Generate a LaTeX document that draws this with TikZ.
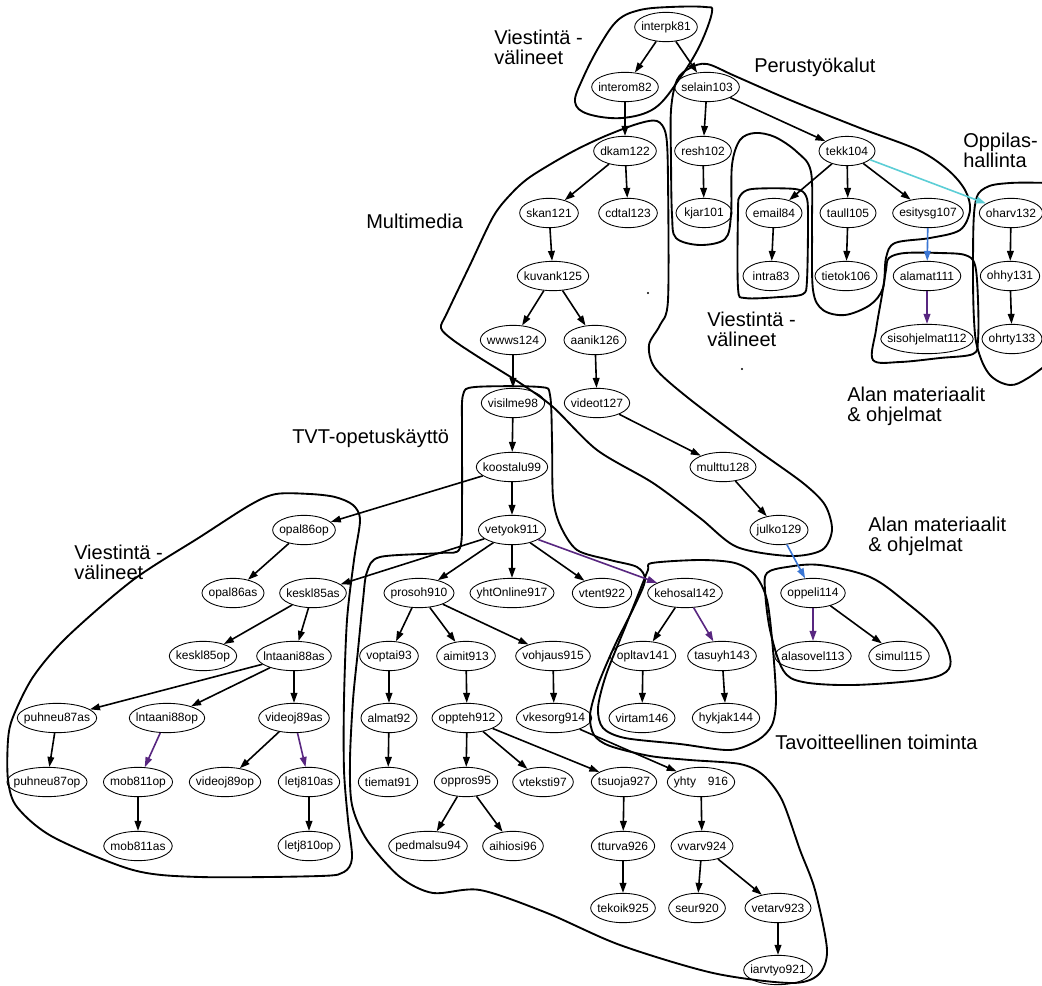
\documentclass[tikz,border=0pt]{standalone}
\usepackage{fontspec}
\setmainfont{Liberation Sans}
\usetikzlibrary{shapes.geometric,arrows.meta}

\definecolor{gvpurple}{RGB}{88,38,128}
\definecolor{gvblue}{RGB}{58,118,212}
\definecolor{gvcyan}{RGB}{92,206,214}

\newcommand\ndfont{\fontsize{9}{10}\selectfont}
% the ellipse is sqrt(2) times its text box: shrink the box so that
% the ellipse ends up 10pt wider than the label
\newcommand\ebox[1]{\makebox[\dimexpr 0.7071\width+7.07pt\relax][c]{#1}}
\newcommand\nd[3]{\node[gv] (#1) at (#2) {\ebox{#3}};}

\tikzset{
  gv/.style={ellipse, draw, line width=0.65pt, inner xsep=0pt, inner ysep=0pt,
             minimum width=42pt, minimum height=22pt, font=\ndfont},
  ed/.style={-{Triangle[length=7.5pt,width=5pt]}, line width=1.2pt},
  edp/.style={ed, draw=gvpurple},
  edb/.style={ed, draw=gvblue},
  edc/.style={ed, draw=gvcyan},
  loop/.style={line width=1.4pt, line join=round, line cap=round},
  lab/.style={anchor=north west, inner sep=0pt, align=left,
              font=\fontsize{15}{15}\selectfont},
}

\begin{document}
\begin{tikzpicture}[x=0.75pt, y=-0.75pt]
\useasboundingbox (0,0) rectangle (1042,985);
\fill[white] (0,0) rectangle (1042,985);
\clip (0,0) rectangle (1042,985);

% ---------- group outlines ----------
% interpk81 / interom82
\draw[loop] plot[smooth cycle, tension=0.6] coordinates {
  (712,12) (700,45) (680,78) (655,108) (622,118) (588,114) (575,102)
  (583,78) (600,45) (618,20) (640,10) (670,7) (705,7)};
% Perustyokalut
\draw[loop] plot[smooth cycle, tension=0.55] coordinates {
  (707,64) (690,68) (677,80) (671,110) (671,160) (672,215) (676,238)
  (700,245) (725,239) (731,215) (732,165) (740,140) (755,133) (775,137)
  (797,152) (811,172) (812,230) (813,290) (823,310) (845,315) (870,305)
  (883,288) (886,258) (895,243) (930,238) (960,230) (970,210) (965,190)
  (948,170) (918,150) (860,128) (790,100) (735,76)};
% email84 / intra83
\draw[loop] plot[smooth cycle, tension=0.5] coordinates {
  (740,196) (752,189) (795,189) (806,196) (808,215) (807,280) (803,294)
  (780,297) (745,298) (738,288) (738,210)};
% alamat111 / sisohjelmat112
\draw[loop] plot[smooth cycle, tension=0.55] coordinates {
  (889,258) (905,253) (940,253) (965,255) (975,265) (978,300) (978,340)
  (973,354) (940,358) (900,362) (873,360) (876,330) (882,295) (886,270)};
% oharv132 ... ohrty133
\draw[loop] plot[smooth, tension=0.6] coordinates {
  (1050,183) (1010,183) (985,188) (975,205) (973,260) (974,320) (978,350)
  (990,375) (1010,385) (1028,378) (1050,362)};
% Multimedia
\draw[loop] plot[smooth cycle, tension=0.5] coordinates {
  (657,121) (666,135) (668,180) (668,300) (660,325) (649,345) (655,368)
  (687,397) (753,447) (803,483) (825,505) (832,530) (822,550) (790,556)
  (737,547) (700,518) (653,483) (597,450) (553,407) (520,383) (480,358)
  (453,340) (441,328) (447,313) (470,265) (493,217) (510,195) (530,177)
  (570,153) (603,137) (637,124)};
% TVT-opetuskaytto
\draw[loop] plot[smooth cycle, tension=0.5] coordinates {
  (463,395) (475,387) (540,387) (550,395) (552,440) (553,497) (560,525)
  (577,550) (610,560) (637,567) (645,580) (635,605) (615,645) (598,685)
  (590,715) (594,735) (610,746) (650,756) (690,760) (740,764) (763,775)
  (782,800) (800,850) (815,890) (827,950) (818,975) (790,983) (713,973)
  (620,945) (547,913) (480,890) (433,893) (400,877) (367,840) (352,805)
  (350,760) (353,700) (358,650) (363,600) (367,572) (380,557) (440,553)
  (460,548) (462,500) (462,430)};
% kehosal142 ...
\draw[loop] plot[smooth cycle, tension=0.5] coordinates {
  (652,563) (700,560) (735,563) (755,575) (767,600) (773,650) (776,700)
  (772,725) (758,740) (730,750) (680,744) (625,738) (603,728) (598,708)
  (606,675) (626,625) (640,590) (648,570)};
% oppeli114 ...
\draw[loop] plot[smooth cycle, tension=0.55] coordinates {
  (767,573) (787,567) (820,565) (870,577) (907,603) (937,630) (950,657)
  (946,672) (920,680) (853,685) (803,682) (783,670) (770,630) (765,590)};
% left Viestintavalineet
\draw[loop] plot[smooth cycle, tension=0.5] coordinates {
  (276,494) (310,494) (335,497) (353,505) (360,520) (354,560) (347,620)
  (344,700) (344,770) (348,820) (352,858) (344,872) (320,876) (200,877)
  (133,870) (53,837) (17,807) (8,780) (8,740) (13,717) (33,677) (67,637)
  (133,580) (200,537) (250,505)};

\fill (648,293) circle (1.2);
\fill (742,369) circle (1.2);

% ---------- group labels ----------
\node[lab] (lbViA) at (494,30) {Viestintä -\\välineet};
\node[lab] (lbPer) at (754,58) {Perustyökalut};
\node[lab] (lbOpp) at (963,133) {Oppilas-\\hallinta};
\node[lab] (lbMul) at (366,214) {Multimedia};
\node[lab] (lbViB) at (707,312) {Viestintä -\\välineet};
\node[lab] (lbAlA) at (847,387) {Alan materiaalit\\\& ohjelmat};
\node[lab] (lbTVT) at (292,429) {TVT-opetuskäyttö};
\node[lab] (lbAlB) at (868,517) {Alan materiaalit\\\& ohjelmat};
\node[lab] (lbViC) at (74,545) {Viestintä -\\välineet};
\node[lab] (lbTav) at (775,735) {Tavoitteellinen toiminta};

% ---------- nodes ----------
\nd{interpk81}{666,27}{interpk81}
\nd{interom82}{625,87}{interom82}
\nd{selain103}{707,87}{selain103}
\nd{dkam122}{625,151}{dkam122}
\nd{resh102}{703,151}{resh102}
\nd{tekk104}{847,151}{tekk104}
\nd{skan121}{549,213}{skan121}
\nd{cdtal123}{628,213}{cdtal123}
\nd{kjar101}{704,213}{kjar101}
\nd{email84}{774,213}{email84}
\nd{taull105}{848,213}{taull105}
\nd{esitysg107}{928,213}{esitysg107}
\nd{oharv132}{1011,213}{oharv132}
\nd{kuvank125}{553,276}{kuvank125}
\nd{intra83}{771,276}{intra83}
\nd{tietok106}{846,276}{tietok106}
\nd{alamat111}{927,276}{alamat111}
\nd{ohhy131}{1010,276}{ohhy131}
\nd{wwws124}{513,340}{wwws124}
\nd{aanik126}{595,340}{aanik126}
\nd{sisohjelmat112}{927,339}{sisohjelmat112}
\nd{ohrty133}{1012,339}{ohrty133}
\nd{visilme98}{513,403}{visilme98}
\nd{videot127}{597,403}{videot127}
\nd{koostalu99}{512,467}{koostalu99}
\nd{multtu128}{723,467}{multtu128}
\nd{vetyok911}{512,530}{vetyok911}
\nd{julko129}{779,530}{julko129}
\nd{opal86op}{304,530}{opal86op}
\nd{opal86as}{233,593}{opal86as}
\nd{keskl85as}{313,593}{keskl85as}
\nd{prosoh910}{419,593}{prosoh910}
\nd{yhtOnline917}{512,593}{yhtOnline917}
\nd{vtent922}{602,593}{vtent922}
\nd{kehosal142}{685,593}{kehosal142}
\nd{oppeli114}{813,593}{oppeli114}
\nd{keskl85op}{203,656}{keskl85op}
\nd{lntaani88as}{294,656}{lntaani88as}
\nd{voptai93}{389,656}{voptai93}
\nd{aimit913}{466,656}{aimit913}
\nd{vohjaus915}{553,656}{vohjaus915}
\nd{opltav141}{643,656}{opltav141}
\nd{tasuyh143}{722,656}{tasuyh143}
\nd{alasovel113}{813,656}{alasovel113}
\nd{simul115}{899,656}{simul115}
\nd{puhneu87as}{57,718}{puhneu87as}
\nd{lntaani88op}{167,718}{lntaani88op}
\nd{videoj89as}{294,718}{videoj89as}
\nd{almat92}{389,718}{almat92}
\nd{oppteh912}{467,718}{oppteh912}
\nd{vkesorg914}{554,718}{vkesorg914}
\nd{virtam146}{642,718}{virtam146}
\nd{hykjak144}{726,718}{hykjak144}
\nd{puhneu87op}{47,782}{puhneu87op}
\nd{mob811op}{138,782}{mob811op}
\nd{videoj89op}{225,782}{videoj89op}
\nd{letj810as}{309,782}{letj810as}
\nd{tiemat91}{388,782}{tiemat91}
\nd{oppros95}{466,782}{oppros95}
\nd{vteksti97}{543,782}{vteksti97}
\nd{tsuoja927}{624,782}{tsuoja927}
\nd{yhty916}{701,782}{yhty\quad 916}
\nd{mob811as}{138,846}{mob811as}
\nd{letj810op}{309,846}{letj810op}
\nd{pedmalsu94}{428,846}{pedmalsu94}
\nd{aihiosi96}{513,846}{aihiosi96}
\nd{tturva926}{623,846}{tturva926}
\nd{vvarv924}{702,846}{vvarv924}
\nd{tekoik925}{623,908}{tekoik925}
\nd{seur920}{697,908}{seur920}
\nd{vetarv923}{778,908}{vetarv923}
\nd{iarvtyo921}{778,970}{iarvtyo921}

% ---------- connectors ----------
\draw[ed] (interpk81) -- (interom82);
\draw[ed] (interpk81) -- (selain103);
\draw[ed] (interom82) -- (dkam122);
\draw[ed] (selain103) -- (resh102);
\draw[ed] (selain103) -- (tekk104);
\draw[ed] (resh102) -- (kjar101);
\draw[ed] (dkam122) -- (skan121);
\draw[ed] (dkam122) -- (cdtal123);
\draw[ed] (skan121) -- (kuvank125);
\draw[ed] (kuvank125) -- (wwws124);
\draw[ed] (kuvank125) -- (aanik126);
\draw[ed] (wwws124) -- (visilme98);
\draw[ed] (aanik126) -- (videot127);
\draw[ed] (videot127) -- (multtu128);
\draw[ed] (multtu128) -- (julko129);
\draw[ed] (visilme98) -- (koostalu99);
\draw[ed] (koostalu99) -- (vetyok911);
\draw[ed] (koostalu99) -- (opal86op);
\draw[ed] (tekk104) -- (email84);
\draw[ed] (tekk104) -- (taull105);
\draw[ed] (tekk104) -- (esitysg107);
\draw[edc] (tekk104) -- (oharv132);
\draw[ed] (email84) -- (intra83);
\draw[ed] (taull105) -- (tietok106);
\draw[edb] (esitysg107) -- (alamat111);
\draw[edp] (alamat111) -- (sisohjelmat112);
\draw[ed] (oharv132) -- (ohhy131);
\draw[ed] (ohhy131) -- (ohrty133);
\draw[ed] (opal86op) -- (opal86as);
\draw[ed] (vetyok911) -- (keskl85as);
\draw[ed] (vetyok911) -- (prosoh910);
\draw[ed] (vetyok911) -- (yhtOnline917);
\draw[ed] (vetyok911) -- (vtent922);
\draw[edp] (vetyok911) -- (kehosal142);
\draw[edb] (julko129) -- (oppeli114);
\draw[edp] (oppeli114) -- (alasovel113);
\draw[ed] (oppeli114) -- (simul115);
\draw[ed] (keskl85as) -- (keskl85op);
\draw[ed] (keskl85as) -- (lntaani88as);
\draw[ed] (lntaani88as) -- (puhneu87as);
\draw[ed] (lntaani88as) -- (lntaani88op);
\draw[ed] (lntaani88as) -- (videoj89as);
\draw[ed] (puhneu87as) -- (puhneu87op);
\draw[edp] (lntaani88op) -- (mob811op);
\draw[ed] (videoj89as) -- (videoj89op);
\draw[edp] (videoj89as) -- (letj810as);
\draw[ed] (mob811op) -- (mob811as);
\draw[ed] (letj810as) -- (letj810op);
\draw[ed] (prosoh910) -- (voptai93);
\draw[ed] (prosoh910) -- (aimit913);
\draw[ed] (prosoh910) -- (vohjaus915);
\draw[ed] (voptai93) -- (almat92);
\draw[ed] (almat92) -- (tiemat91);
\draw[ed] (aimit913) -- (oppteh912);
\draw[ed] (vohjaus915) -- (vkesorg914);
\draw[ed] (oppteh912) -- (oppros95);
\draw[ed] (oppteh912) -- (vteksti97);
\draw[ed] (oppteh912) -- (tsuoja927);
\draw[ed] (vkesorg914) -- (yhty916);
\draw[ed] (oppros95) -- (pedmalsu94);
\draw[ed] (oppros95) -- (aihiosi96);
\draw[ed] (tsuoja927) -- (tturva926);
\draw[ed] (tturva926) -- (tekoik925);
\draw[ed] (yhty916) -- (vvarv924);
\draw[ed] (vvarv924) -- (seur920);
\draw[ed] (vvarv924) -- (vetarv923);
\draw[ed] (vetarv923) -- (iarvtyo921);
\draw[ed] (kehosal142) -- (opltav141);
\draw[edp] (kehosal142) -- (tasuyh143);
\draw[ed] (opltav141) -- (virtam146);
\draw[ed] (tasuyh143) -- (hykjak144);
\end{tikzpicture}
\end{document}
